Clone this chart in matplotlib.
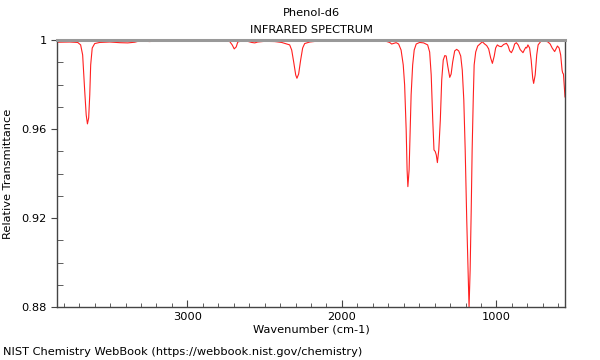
import matplotlib
matplotlib.use("Agg")
import matplotlib.pyplot as plt
from matplotlib.ticker import MultipleLocator, FuncFormatter

wavenumber = [
    3844, 3762, 3710, 3691, 3678, 3665, 3655, 3647, 3639, 3632, 3626, 3616, 3600,
    3568, 3503, 3438, 3386, 3341, 3309, 3244, 3179, 3082, 2985, 2920, 2856, 2759,
    2726, 2710, 2697, 2684, 2674, 2648, 2610, 2584, 2564, 2545, 2500, 2435, 2390,
    2357, 2338, 2325, 2312, 2299, 2291, 2280, 2267, 2254, 2241, 2208, 2144, 2014,
    1885, 1788, 1723, 1691, 1678, 1649, 1633, 1617, 1603, 1594, 1584, 1578, 1573,
    1565, 1559, 1552, 1542, 1532, 1519, 1497, 1471, 1445, 1432, 1422, 1412, 1404,
    1396, 1389, 1382, 1373, 1363, 1354, 1344, 1334, 1325, 1315, 1302, 1293, 1283,
    1270, 1257, 1244, 1231, 1221, 1211, 1202, 1192, 1182, 1177, 1170, 1163, 1157,
    1150, 1144, 1134, 1121, 1091, 1076, 1063, 1050, 1037, 1026, 1014, 1005, 994,
    982, 968, 953, 935, 924, 914, 903, 891, 882, 871, 859, 846, 828, 818, 810,
    804, 796, 785, 775, 765, 759, 749, 739, 730, 709, 688, 666, 652, 639, 623,
    605, 594, 584, 575, 571, 566, 561, 556,
]
transmittance = [
    0.9990, 0.9991, 0.9989, 0.9978, 0.9933, 0.9775, 0.9663, 0.9623, 0.9650, 0.9753, 0.9888, 0.9964, 0.9984,
    0.9989, 0.9991, 0.9988, 0.9987, 0.9990, 0.9996, 0.9993, 0.9997, 0.9996, 0.9997, 0.9994, 0.9997, 0.9996,
    0.9993, 0.9978, 0.9960, 0.9969, 0.9991, 0.9996, 0.9994, 0.9989, 0.9987, 0.9991, 0.9994, 0.9993, 0.9989,
    0.9982, 0.9978, 0.9955, 0.9901, 0.9843, 0.9828, 0.9847, 0.9910, 0.9964, 0.9984, 0.9991, 0.9996, 0.9997,
    0.9997, 0.9997, 0.9996, 0.9989, 0.9982, 0.9988, 0.9982, 0.9955, 0.9888, 0.9798, 0.9596, 0.9416, 0.9341,
    0.9416, 0.9573, 0.9753, 0.9888, 0.9955, 0.9982, 0.9989, 0.9987, 0.9978, 0.9946, 0.9843, 0.9640, 0.9506,
    0.9499, 0.9483, 0.9449, 0.9506, 0.9640, 0.9820, 0.9910, 0.9930, 0.9928, 0.9883, 0.9832, 0.9847, 0.9901,
    0.9951, 0.9958, 0.9951, 0.9928, 0.9865, 0.9730, 0.9506, 0.9191, 0.8921, 0.8798, 0.8966, 0.9236, 0.9506,
    0.9730, 0.9888, 0.9946, 0.9973, 0.9992, 0.9982, 0.9975, 0.9960, 0.9919, 0.9895, 0.9928, 0.9964, 0.9978,
    0.9972, 0.9970, 0.9980, 0.9985, 0.9973, 0.9951, 0.9943, 0.9960, 0.9982, 0.9988, 0.9978, 0.9957, 0.9943, 0.9957, 0.9967,
    0.9964, 0.9978, 0.9964, 0.9910, 0.9829, 0.9805, 0.9843, 0.9933, 0.9978, 0.9997, 0.9997, 0.9991, 0.9982, 0.9964, 0.9948,
    0.9973, 0.9964, 0.9933, 0.9865, 0.9852, 0.9847, 0.9798, 0.9744,
]

y_ticks = [0.88, 0.92, 0.96, 1.0]
x_ticks = [3000, 2000, 1000]

FS = 8.2
fig = plt.figure(figsize=(6, 3.6), dpi=100)
ax = fig.add_axes([57 / 600, 1 - 307 / 360, 508 / 600, 267 / 360])

ax.plot(wavenumber, transmittance, color="#ff2020", lw=0.8)

ax.set_xlim(wavenumber[0], wavenumber[-1])
ax.set_ylim(0.88, 1.0)
ax.set_xticks(x_ticks)
ax.set_yticks(y_ticks)
ax.xaxis.set_minor_locator(MultipleLocator(100))
ax.yaxis.set_minor_locator(MultipleLocator(0.01))
ax.yaxis.set_major_formatter(FuncFormatter(lambda v, p: f"{v:g}"))

ax.tick_params(axis="x", which="both", direction="in", labelsize=FS, colors="#444444",
               labelcolor="black")
ax.tick_params(axis="x", which="major", length=5)
ax.tick_params(axis="x", which="minor", length=3)
ax.tick_params(axis="y", which="major", direction="out", length=4, labelsize=FS,
               colors="#444444", labelcolor="black")
ax.tick_params(axis="y", which="minor", direction="in", length=4, colors="#444444")

for side in ("left", "bottom", "right"):
    ax.spines[side].set_color("#444444")
    ax.spines[side].set_linewidth(1)
ax.spines["top"].set_color("#999999")
ax.spines["top"].set_linewidth(2.2)

ax.set_xlabel("Wavenumber (cm-1)", fontsize=FS, labelpad=2)
ax.set_ylabel("Relative Transmittance", fontsize=FS, labelpad=6)
fig.text(311 / 600, 1 - 13 / 360, "Phenol-d6", ha="center", va="center", fontsize=FS)
fig.text(311 / 600, 1 - 30 / 360, "INFRARED SPECTRUM", ha="center", va="center", fontsize=FS)
fig.text(3 / 600, 1 - 352 / 360, "NIST Chemistry WebBook (https://webbook.nist.gov/chemistry)",
         ha="left", va="center", fontsize=FS)

fig.savefig("out.png", dpi=100, facecolor="white")
